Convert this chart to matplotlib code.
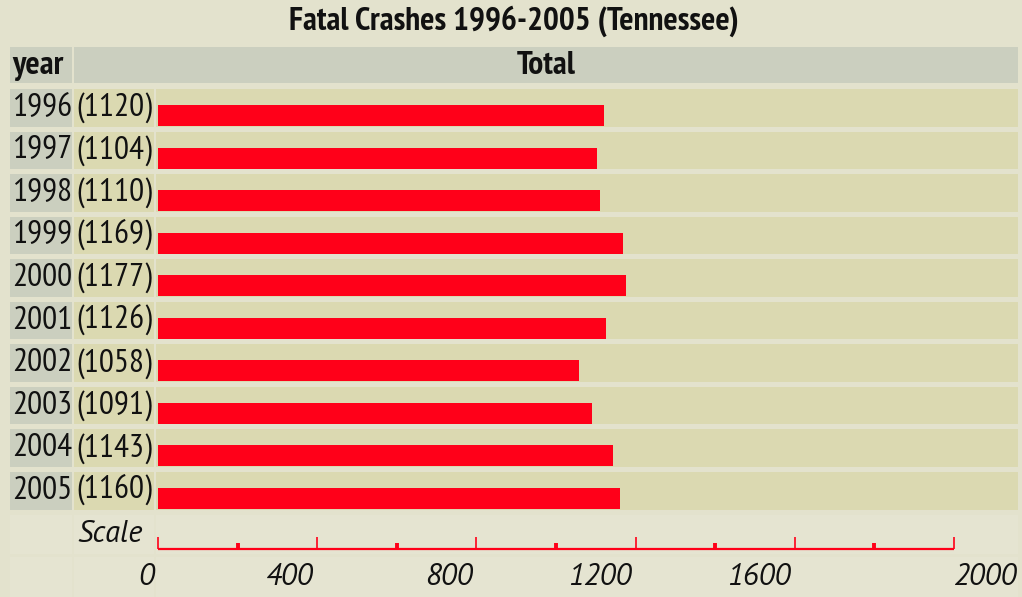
import matplotlib
matplotlib.use("Agg")
import numpy as np
import matplotlib.pyplot as plt
from matplotlib.patches import Rectangle
from matplotlib.ticker import MultipleLocator

# ---- Data ----
years = ["1996", "1997", "1998", "1999", "2000", "2001", "2002", "2003", "2004", "2005"]
totals = [1120, 1104, 1110, 1169, 1177, 1126, 1058, 1091, 1143, 1160]
scale_ticks = [0, 400, 800, 1200, 1600, 2000]
scale_max = 2000

title = "Fatal Crashes 1996-2005 (Tennessee)"

# ---- Style ----
NARROW = ["PT Sans Narrow", "Archivo Narrow", "DejaVu Sans"]
ITALIC = ["PT Sans", "DejaVu Sans"]
plt.rcParams["font.family"] = NARROW
BG = "#E3E2CD"
GRAY = "#CBCFBF"
BEIGE = "#DBD9B1"
RED = "#FF0019"
INK = "#111111"
W, H = 1022, 597

fig = plt.figure(figsize=(W / 100, H / 100), dpi=100, facecolor=BG)
bg = fig.add_axes([0, 0, 1, 1])
bg.set_xlim(0, W)
bg.set_ylim(H, 0)
bg.axis("off")
bg.set_facecolor(BG)

# layout in pixels
row_top0 = 89.0
pitch = 42.56
cell_h = 37.5
col_year = (10, 72)
col_val = (74, 154)
col_bar = (156, 1018)
x0_px = 158.0
px_per_unit = (954.0 - 158.0) / scale_max


def cell(x0, x1, y0, h, color):
    bg.add_patch(Rectangle((x0, y0), x1 - x0, h, facecolor=color, edgecolor="none", zorder=1))


# title and header
bg.text(W / 2 + 3, 21, title, ha="center", va="center", fontsize=24, fontweight="bold", color=INK)
cell(col_year[0], col_year[1], 46.7, 36, GRAY)
cell(col_val[0], col_bar[1], 46.7, 36, GRAY)
bg.text(12, 66, "year", ha="left", va="center", fontsize=24, fontweight="bold", color=INK)
bg.text((col_val[0] + col_bar[1]) / 2, 66, "Total", ha="center", va="center", fontsize=24,
        fontweight="bold", color=INK)

# data row cells and labels
for i, (yr, v) in enumerate(zip(years, totals)):
    top = row_top0 + pitch * i
    cell(col_year[0], col_year[1], top, cell_h, GRAY)
    cell(col_val[0], col_val[1], top, cell_h, BEIGE)
    cell(col_bar[0], col_bar[1], top, cell_h, BEIGE)
    bg.text(12, top + cell_h / 2, yr, ha="left", va="center", fontsize=24, color=INK)
    bg.text(76, top + cell_h / 2, f"({v})", ha="left", va="center", fontsize=24, color=INK)

# scale rows (subtle cells)
for top in (row_top0 + pitch * 10, row_top0 + pitch * 11):
    cell(col_year[0], col_year[1], top, cell_h + 2, "#E5E4D1")
    cell(col_val[0], col_val[1], top, cell_h + 2, "#E5E4D1")
    cell(col_bar[0], col_bar[1], top, cell_h + 2, "#E5E4D1")

# ---- Bars ----
bar_w_units = (col_bar[1] - x0_px) / px_per_unit
top_frac = 1 - row_top0 / H
bot_frac = 1 - (row_top0 + pitch * 10) / H
bax = fig.add_axes([x0_px / W, bot_frac, (col_bar[1] - x0_px) / W, top_frac - bot_frac])
bax.set_xlim(0, bar_w_units)
bax.set_ylim(10, 0)
bax.axis("off")
bax.patch.set_alpha(0)
ypos = np.arange(len(years)) + (16 + 21 / 2) / pitch
bax.barh(ypos, totals, height=21 / pitch, color=RED, edgecolor="none", zorder=3)

# ---- Scale ----
s_line = 549.0
s_top = 520.0
sax = fig.add_axes([x0_px / W, 1 - s_line / H, (col_bar[1] - x0_px) / W, (s_line - s_top) / H])
sax.set_xlim(0, bar_w_units)
sax.patch.set_alpha(0)
for sp in ("top", "left", "right"):
    sax.spines[sp].set_visible(False)
sax.spines["bottom"].set_color(RED)
sax.spines["bottom"].set_linewidth(1.6)
sax.spines["bottom"].set_bounds(0, scale_max)
sax.spines["bottom"].set_capstyle("butt")
sax.set_yticks([])
sax.set_xticks(scale_ticks)
sax.xaxis.set_minor_locator(MultipleLocator(200))
sax.tick_params(axis="x", which="major", direction="in", length=9, width=1.2, color=RED,
                labelbottom=False)
sax.tick_params(axis="x", which="minor", direction="in", length=4.5, width=2.8, color=RED)

bg.text(143, 534, "Scale", ha="right", va="center", fontsize=22, style="italic", color=INK,
        family=ITALIC)
for t in scale_ticks:
    if t == scale_max:
        xl = col_bar[1] - 1
    else:
        xl = x0_px + t * px_per_unit - 4
    bg.text(xl, 577, str(t), ha="right", va="center", fontsize=22, style="italic", color=INK,
            family=ITALIC)

fig.savefig("out.png", dpi=100, facecolor=BG)
plt.close(fig)
